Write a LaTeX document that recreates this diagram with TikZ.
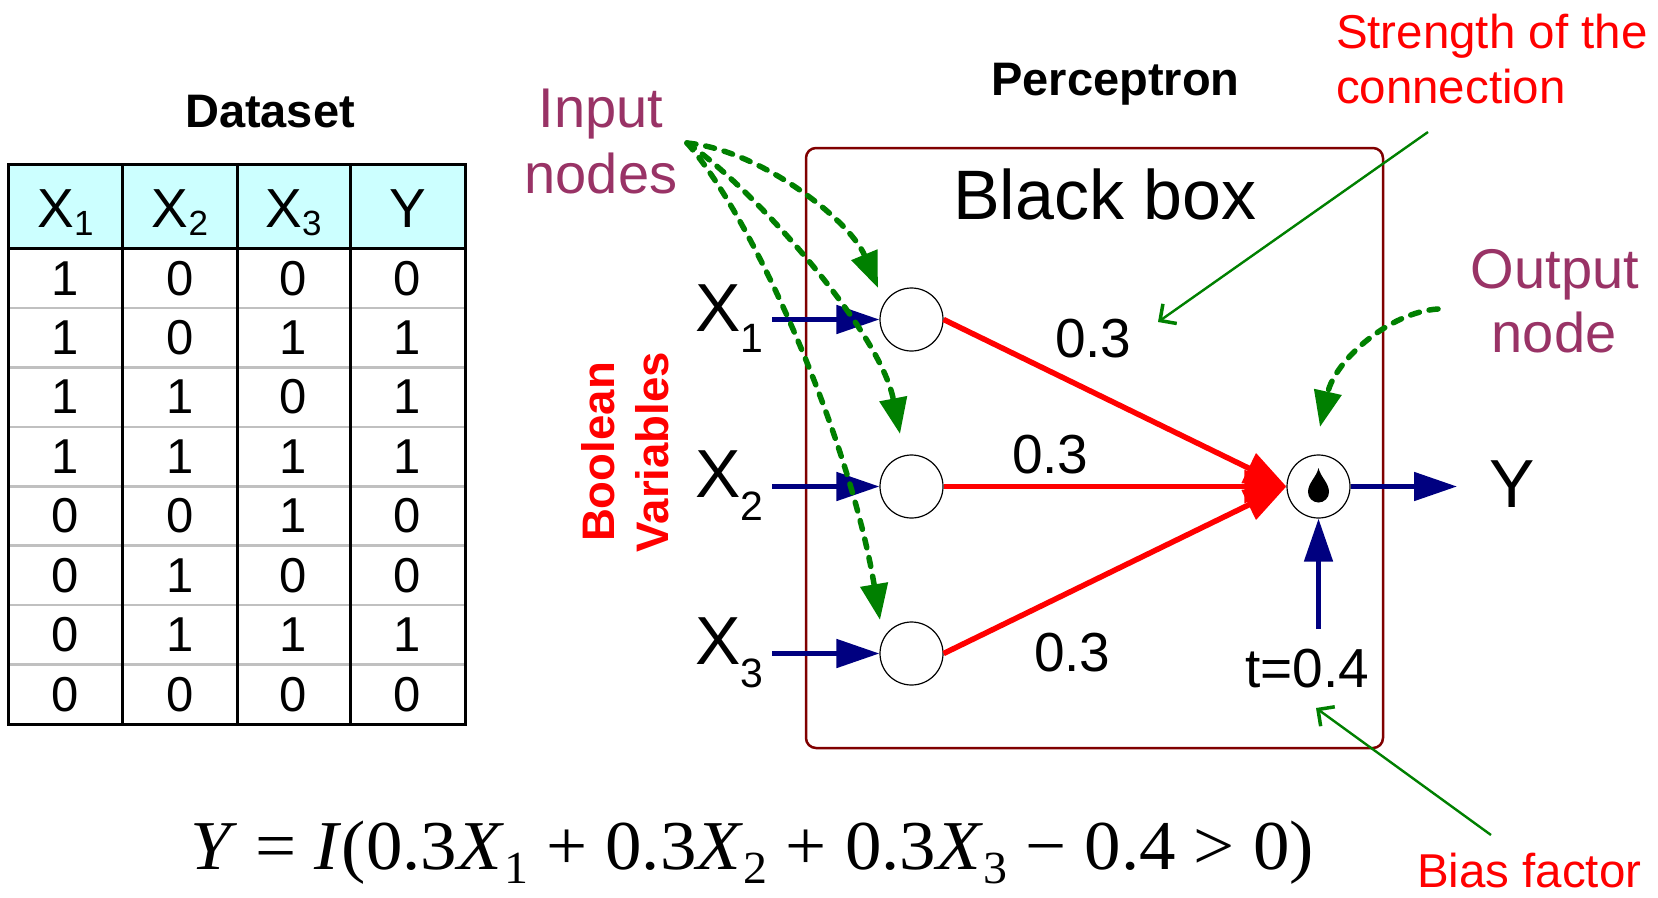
\documentclass[tikz,border=0pt]{standalone}
\usepackage{fontspec}
\setmainfont{Liberation Sans}
\newfontfamily\serifF{Liberation Serif}
\usetikzlibrary{arrows.meta}
\definecolor{navyb}{HTML}{000080}
\definecolor{gr}{HTML}{008000}
\definecolor{boxred}{HTML}{800000}
\definecolor{purp}{HTML}{993366}
\definecolor{cyanh}{HTML}{CCFFFF}
\definecolor{rowgray}{HTML}{C0C0C0}
\newcommand\fsz[1]{\fontsize{#1bp}{#1bp}\selectfont}
\newcommand\subsc[3]{\raisebox{-#1bp}{\fsz{#2}#3}}
\tikzset{
  txt/.style={inner sep=0pt, outer sep=0pt},
  inode/.style={circle, draw, line width=1.2bp, minimum size=63bp, inner sep=0pt},
  bluearr/.style={navyb, line width=5bp, -{Triangle[length=43bp,width=28bp]}},
  redarr/.style={red, line width=5.5bp, -{Triangle[length=42bp,width=32bp]}},
  grdash/.style={gr, line width=5.5bp, line cap=round, dash pattern=on 9bp off 10bp, -{Triangle[length=36bp,width=27bp]}},
  grthin/.style={gr, line width=2.4bp, -{Straight Barb[length=12bp,width=24bp,line width=3.5bp]}},
  thickline/.style={black, line width=3bp},
}
\begin{document}
\begin{tikzpicture}[x=1bp,y=-1bp]
\useasboundingbox (0,0) rectangle (1658,897);
\fill[white] (0,0) rectangle (1658,897);

% ---------- Dataset table ----------
\node[txt, anchor=base, font=\bfseries\fsz{47}] (dataset) at (270,127) {Dataset};
\fill[cyanh] (8.5,164) rectangle (465,248.5);
\foreach \i in {1,...,7} {
  \draw[rowgray, line width=2.5bp] (8.5,{248.5+59.44*\i}) -- (465,{248.5+59.44*\i});
}
\foreach \x in {8.5,122.7,237,350,465} {
  \draw[thickline] (\x,164) -- (\x,724);
}
\draw[thickline] (7,164) -- (466.5,164);
\draw[thickline, line width=3.5bp] (7,248.5) -- (466.5,248.5);
\draw[thickline] (7,724) -- (466.5,724);
\node[txt, anchor=base, font=\fsz{55}] (h1) at (65.6,227) {X\subsc{8}{35}{1}};
\node[txt, anchor=base, font=\fsz{55}] (h2) at (180,227) {X\subsc{8}{35}{2}};
\node[txt, anchor=base, font=\fsz{55}] (h3) at (293.5,227) {X\subsc{8}{35}{3}};
\node[txt, anchor=base, font=\fsz{55}] (h4) at (407.5,227) {Y};
\foreach \r/\a/\b/\c/\d in {1/1/0/0/0, 2/1/0/1/1, 3/1/1/0/1, 4/1/1/1/1, 5/0/0/1/0, 6/0/1/0/0, 7/0/1/1/1, 8/0/0/0/0} {
  \node[txt, font=\fsz{49}] (c\r a) at (65.6,{248.5+59.44*(\r-0.5)}) {\a};
  \node[txt, font=\fsz{49}] (c\r b) at (180,{248.5+59.44*(\r-0.5)}) {\b};
  \node[txt, font=\fsz{49}] (c\r c) at (293.5,{248.5+59.44*(\r-0.5)}) {\c};
  \node[txt, font=\fsz{49}] (c\r d) at (407.5,{248.5+59.44*(\r-0.5)}) {\d};
}

% ---------- Perceptron ----------
\node[txt, anchor=base, font=\bfseries\fsz{47}] (perc) at (1115.5,95) {Perceptron};
\draw[boxred, line width=2.5bp, rounded corners=10bp] (806,148) rectangle (1383,748);
\node[txt, anchor=base, font=\fsz{70}] (bb) at (1105,219) {Black box};

\node[inode] (n1) at (911.5,319.5) {};
\node[inode] (n2) at (911.5,486.5) {};
\node[inode] (n3) at (911.5,653.5) {};
\node[inode] (out) at (1318.5,486.5) {};
\fill (1318.5,468) .. controls (1316.5,477) and (1308,483) .. (1308,492)
  arc[start angle=180, end angle=0, radius=10.5]
  .. controls (1329,483) and (1320.5,477) .. (1318.5,468);

% inputs
\node[txt, anchor=base west, font=\fsz{68}] (x1) at (695,331) {X\subsc{21}{41}{1}};
\node[txt, anchor=base west, font=\fsz{68}] (x2) at (695,497) {X\subsc{23}{41}{2}};
\node[txt, anchor=base west, font=\fsz{68}] (x3) at (695,664) {X\subsc{23}{41}{3}};
\coordinate (s1) at (772,319.5);
\coordinate (s2) at (772,486.5);
\coordinate (s3) at (772,653.5);
\draw[bluearr] (s1) -- (n1.west);
\draw[bluearr] (s2) -- (n2.west);
\draw[bluearr] (s3) -- (n3.west);

% weights
\draw[redarr] (n1.east) -- (out.west);
\draw[redarr] (n2.east) -- (out.west);
\draw[redarr] (n3.east) -- (out.west);
\node[txt, anchor=base west, font=\fsz{55}] (w1) at (1055,357) {0.3};
\node[txt, anchor=base west, font=\fsz{55}] (w2) at (1012,473) {0.3};
\node[txt, anchor=base west, font=\fsz{55}] (w3) at (1034,671) {0.3};

% output
\coordinate (yend) at (1457,486.5);
\draw[bluearr] (out.east) -- (yend);
\node[txt, anchor=base west, font=\fsz{68}] (yout) at (1489,507) {Y};
\coordinate (bstart) at (1318.5,629);
\draw[bluearr] (bstart) -- (out.south);
\node[txt, anchor=base west, font=\fsz{55}] (thr) at (1245,687) {t=0.4};

% ---------- annotations ----------
\node[txt, anchor=base, font=\fsz{56}, text=purp] (in1) at (601,127) {Input};
\node[txt, anchor=base, font=\fsz{56}, text=purp] (in2) at (601,193) {nodes};
\node[txt, anchor=base, font=\fsz{56}, text=purp] (on1) at (1555,288) {Output};
\node[txt, anchor=base, font=\fsz{56}, text=purp] (on2) at (1554,352) {node};
\node[txt, anchor=base west, font=\fsz{47.5}, text=red] (st1) at (1336,48) {Strength of the};
\node[txt, anchor=base west, font=\fsz{47.5}, text=red] (st2) at (1336,103) {connection};
\node[txt, anchor=base west, font=\fsz{47.5}, text=red] (bias) at (1417,887) {Bias factor};
\node[txt, rotate=90, align=center, font=\bfseries\fsz{45.6}, text=red] (bool) at (625,452) {Boolean\\[8bp]Variables};

\coordinate (gsrc) at (687,143);
\coordinate (g1) at (878,288);
\coordinate (g2) at (900,434);
\coordinate (g3) at (880,620);
\draw[grdash] (gsrc) .. controls (760,150) and (850,220) .. (g1);
\draw[grdash] (gsrc) .. controls (750,185) and (880,330) .. (g2);
\draw[grdash] (gsrc) .. controls (755,220) and (850,440) .. (g3);
\coordinate (gosrc) at (1438,309);
\coordinate (gotip) at (1320,427);
\draw[grdash] (gosrc) .. controls (1390,312) and (1335,360) .. (gotip);

\coordinate (strs) at (1428,132);
\coordinate (strt) at (1158,322);
\draw[grthin] (strs) -- (strt);
\coordinate (bis) at (1491,835);
\coordinate (bit) at (1316,708);
\draw[grthin] (bis) -- (bit);

% ---------- formula ----------
\node[txt, anchor=base west] (formula) at (190,869) {\resizebox{1124bp}{\height}{\serifF\fsz{70}%
  \textit{Y} = \textit{I}(0.3\textit{X}\subsc{14}{46}{1} + 0.3\textit{X}\subsc{14}{46}{2} + 0.3\textit{X}\subsc{14}{46}{3} − 0.4 > 0)}};
\end{tikzpicture}
\end{document}
